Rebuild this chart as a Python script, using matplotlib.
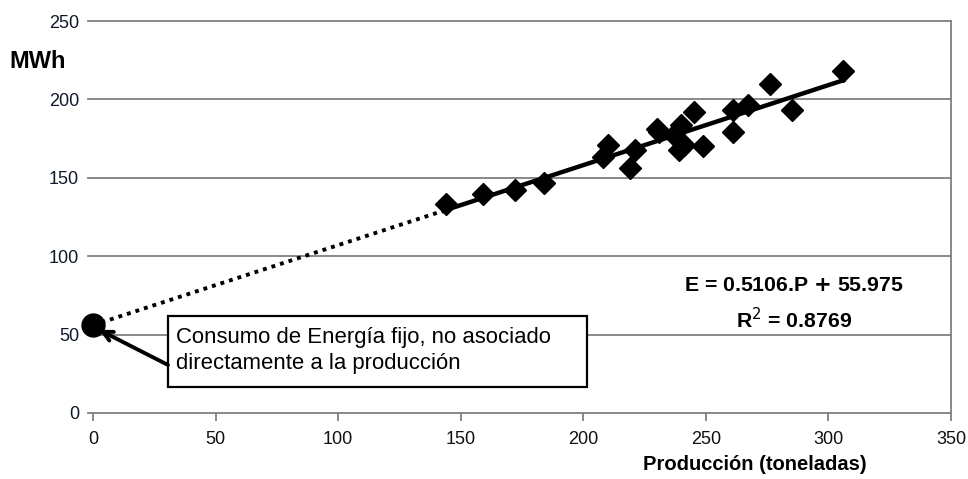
import matplotlib
matplotlib.use("Agg")
import matplotlib.pyplot as plt
from matplotlib.patches import Rectangle
import numpy as np

plt.rcParams['font.family'] = ['Liberation Sans', 'DejaVu Sans']

produccion = [144, 159, 172, 184, 208, 210, 219, 221, 230, 231, 237, 239, 240,
              241, 245, 249, 261, 261, 267, 276, 285, 306]
energia = [133.5, 139.5, 142.5, 146.5, 163, 171, 156, 168, 181, 179.5, 177, 167.5,
           184, 171, 192, 170, 193, 179.5, 196.5, 210, 193.5, 218]
slope = 0.5106
intercept = 55.975
r2 = 0.8769
x_ticks = [0, 50, 100, 150, 200, 250, 300, 350]
y_ticks = [0, 50, 100, 150, 200, 250]

fig = plt.figure(figsize=(9.68, 4.79), dpi=100)
ax = fig.add_axes([0.096, 0.138, 0.8865, 0.818])
ax.set_xlim(0, 350)
ax.set_ylim(0, 250)

grid_c = '#808080'
for y in y_ticks:
    ax.plot([-2, 350], [y, y], color=grid_c, lw=1.3, zorder=0, clip_on=False)

ax.spines['left'].set_visible(False)
ax.spines['top'].set_visible(False)
ax.spines['bottom'].set_visible(False)
ax.spines['right'].set_color(grid_c)
ax.spines['right'].set_linewidth(1.3)

ax.set_xticks(x_ticks)
ax.set_yticks(y_ticks)
ax.tick_params(axis='x', direction='out', length=6, width=1.3, color=grid_c,
               labelsize=13, pad=7, labelcolor='#111111')
ax.tick_params(axis='y', length=0, labelsize=13, pad=10, labelcolor='#10182a')

# trend line (solid) over data range
xmin, xmax = min(produccion) - 1, max(produccion)
xs = np.array([xmin, xmax])
ax.plot(xs, slope * xs + intercept, color='black', lw=3.2, zorder=2)
# dotted extrapolation to zero
xd = np.array([0, xmin])
ax.plot(xd, slope * xd + intercept, color='black', lw=2.8, ls=(0, (1, 1.3)), zorder=2)

ax.plot(produccion, energia, ls='none', marker='D', ms=11, color='black', zorder=3)

# fixed consumption point
ax.plot([0], [intercept], marker='o', ms=16.5, color='black', clip_on=False, zorder=4)

ax.text(286, 81.6, 'E = 0.5106.P $\\mathbf{+}$ 55.975', ha='center', va='center',
        fontsize=15.3, fontweight='bold')
ax.text(286, 59.3, f'R$^2$ = {r2}', ha='center', va='center',
        fontsize=15.3, fontweight='bold')

# annotation box
box = Rectangle((30.6, 16.6), 170.9, 45.3, fc='white', ec='black', lw=1.6, zorder=5)
ax.add_patch(box)
ax.text(33.9, 40.0, 'Consumo de Energía fijo, no asociado\ndirectamente a la producción',
        ha='left', va='center', fontsize=15.9, zorder=6, linespacing=1.3)
ax.annotate('', xy=(2.5, 53), xytext=(30.6, 30.6),
            arrowprops=dict(arrowstyle='->,head_length=0.7,head_width=0.35', color='black',
                            lw=2.8, shrinkA=0, shrinkB=0),
            zorder=5)

fig.text(0.010, 0.872, 'MWh', fontsize=17, fontweight='bold', ha='left', va='center')
fig.text(0.78, 0.03, 'Producción (toneladas)', fontsize=14.5, fontweight='bold',
         ha='center', va='center')

fig.savefig('out.png', dpi=100)
